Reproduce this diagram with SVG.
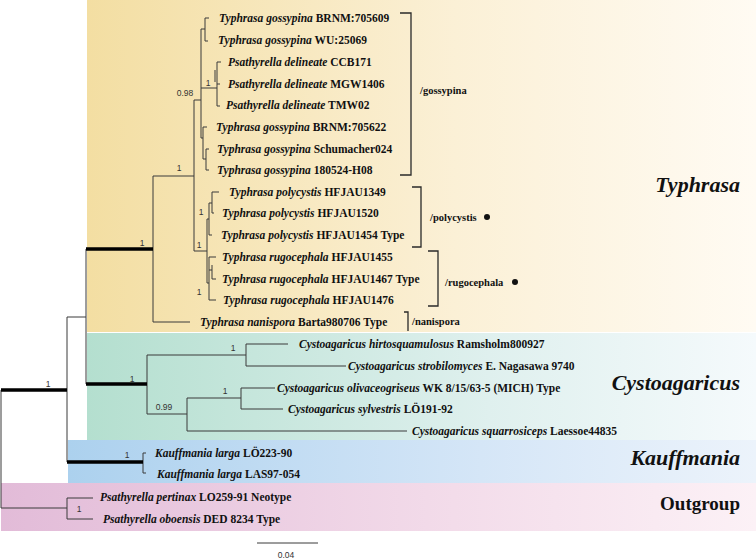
<svg xmlns="http://www.w3.org/2000/svg" width="756" height="560" viewBox="0 0 756 560">
<defs>
<linearGradient id="gY" x1="0" y1="0" x2="1" y2="0"><stop offset="0" stop-color="#f3dea2"/><stop offset="0.55" stop-color="#fbf0d6"/><stop offset="1" stop-color="#fffbf3"/></linearGradient>
<linearGradient id="gT" x1="0" y1="0" x2="1" y2="0"><stop offset="0" stop-color="#b4dfcf"/><stop offset="0.6" stop-color="#dff0ee"/><stop offset="1" stop-color="#f5fafc"/></linearGradient>
<linearGradient id="gB" x1="0" y1="0" x2="1" y2="0"><stop offset="0" stop-color="#acd1ee"/><stop offset="0.6" stop-color="#d5e6f7"/><stop offset="1" stop-color="#ecf3fb"/></linearGradient>
<linearGradient id="gP" x1="0" y1="0" x2="1" y2="0"><stop offset="0" stop-color="#e2bbd8"/><stop offset="0.6" stop-color="#f3dcea"/><stop offset="1" stop-color="#fcf1f6"/></linearGradient>
<style>
.br{fill:none;stroke:#3a3a3a;stroke-width:1}
.th{fill:none;stroke:#000;stroke-width:3.5}
.bk{fill:none;stroke:#2a2a2a;stroke-width:1.3}
.tx{font-family:"Liberation Serif",serif;font-weight:bold;font-size:11.5px;fill:#111}
.tx tspan.i{font-style:italic}
.cl{font-family:"Liberation Serif",serif;font-weight:bold;font-size:10.5px;fill:#111}
.sp{font-family:"Liberation Sans",Arial,sans-serif;font-size:8.5px;fill:#333;text-anchor:middle}
.gr{font-family:"Liberation Serif",serif;font-weight:bold;font-style:italic;font-size:22px;fill:#111;text-anchor:end}
.og{font-family:"Liberation Serif",serif;font-weight:bold;font-size:19px;fill:#111;text-anchor:end}
</style>
</defs>
<g id="backgrounds">
<rect x="87" y="0" width="669" height="332" fill="url(#gY)"/>
<rect x="87" y="333" width="669" height="107" fill="url(#gT)"/>
<rect x="68" y="440" width="688" height="43" fill="url(#gB)"/>
<rect x="1" y="483" width="755" height="48" fill="url(#gP)"/>
</g>
<g id="connectors">
<path class="br" d="M1,390V508M1,508H67M67,498V519M67,498H93M67,519H93"/>
<path class="br" d="M67,317V462M67,317H86M143,453V473M143,453H146M143,473H146"/>
<path class="br" d="M86,249V384M153,176V322M153,176H194M153,322H190"/>
<path class="br" d="M194,100V251M194,100H201M194,251H207"/>
<path class="br" d="M201,29V138M201,29H205M205,18V41M205,18H209M205,41H208"/>
<path class="br" d="M201,88H217M217,62V106M217,62H221M217,84H220M217,106H220M215,70V82"/>
<path class="br" d="M201,138H203M203,127V159M203,127H207M203,159H206M206,149V170M206,149H209M206,170H209"/>
<path class="br" d="M207,219V283M207,219H209M207,283H209M209,203V235M209,203H212M212,192V213M212,192H219M212,213H214M209,235H212"/>
<path class="br" d="M209,257V300M209,257H216M209,270H212M212,265V279M212,279H216M209,300H216"/>
<path class="br" d="M147,355V414M147,355H246M147,414H187M246,344V366M246,344H288M246,366H346M187,398V431M187,398H241M187,431H407M241,388V409M241,388H275M241,409H283"/>
<path class="th" d="M1,390H67M67,462H143M86,249H153M86,384H147"/>
<path class="bk" d="M400,13H411V175H400M412,187H421V247H412M428,251H438V306H428M404,312H408V331"/>
<path class="br" d="M257,543H318"/>
</g>
<g id="supports">
<text class="sp" x="48" y="387">1</text>
<text class="sp" x="132" y="382">1</text>
<text class="sp" x="127" y="458">1</text>
<text class="sp" x="142" y="246">1</text>
<text class="sp" x="79" y="512">1</text>
<text class="sp" x="179" y="171">1</text>
<text class="sp" x="185" y="96">0.98</text>
<text class="sp" x="208" y="86">1</text>
<text class="sp" x="199" y="248">1</text>
<text class="sp" x="201" y="215">1</text>
<text class="sp" x="199" y="295">1</text>
<text class="sp" x="233" y="351">1</text>
<text class="sp" x="164" y="410">0.99</text>
<text class="sp" x="225" y="394">1</text>
<text class="sp" x="286" y="558">0.04</text>
</g>
<g id="taxa">
<text class="tx" x="219" y="22"><tspan class="i">Typhrasa gossypina</tspan> BRNM:705609</text>
<text class="tx" x="218" y="44"><tspan class="i">Typhrasa gossypina</tspan> WU:25069</text>
<text class="tx" x="228" y="66"><tspan class="i">Psathyrella delineate</tspan> CCB171</text>
<text class="tx" x="228" y="88"><tspan class="i">Psathyrella delineate</tspan> MGW1406</text>
<text class="tx" x="226" y="109"><tspan class="i">Psathyrella delineate</tspan> TMW02</text>
<text class="tx" x="216" y="131"><tspan class="i">Typhrasa gossypina</tspan> BRNM:705622</text>
<text class="tx" x="217" y="153"><tspan class="i">Typhrasa gossypina</tspan> Schumacher024</text>
<text class="tx" x="217" y="174"><tspan class="i">Typhrasa gossypina</tspan> 180524-H08</text>
<text class="tx" x="229" y="196"><tspan class="i">Typhrasa polycystis</tspan> HFJAU1349</text>
<text class="tx" x="222" y="217"><tspan class="i">Typhrasa polycystis</tspan> HFJAU1520</text>
<text class="tx" x="221" y="239"><tspan class="i">Typhrasa polycystis</tspan> HFJAU1454 Type</text>
<text class="tx" x="222" y="261"><tspan class="i">Typhrasa rugocephala</tspan> HFJAU1455</text>
<text class="tx" x="222" y="283"><tspan class="i">Typhrasa rugocephala</tspan> HFJAU1467 Type</text>
<text class="tx" x="223" y="304"><tspan class="i">Typhrasa rugocephala</tspan> HFJAU1476</text>
<text class="tx" x="200" y="326"><tspan class="i">Typhrasa nanispora</tspan> Barta980706 Type</text>
<text class="tx" x="299" y="348"><tspan class="i">Cystoagaricus hirtosquamulosus</tspan> Ramsholm800927</text>
<text class="tx" x="348" y="370"><tspan class="i">Cystoagaricus strobilomyces</tspan> E. Nagasawa 9740</text>
<text class="tx" x="277" y="392"><tspan class="i">Cystoagaricus olivaceogriseus</tspan> WK 8/15/63-5 (MICH) Type</text>
<text class="tx" x="288" y="413"><tspan class="i">Cystoagaricus sylvestris</tspan> LÖ191-92</text>
<text class="tx" x="412" y="435"><tspan class="i">Cystoagaricus squarrosiceps</tspan> Laessoe44835</text>
<text class="tx" x="155" y="457"><tspan class="i">Kauffmania larga</tspan> LÖ223-90</text>
<text class="tx" x="157" y="478"><tspan class="i">Kauffmania larga</tspan> LAS97-054</text>
<text class="tx" x="100" y="501"><tspan class="i">Psathyrella pertinax</tspan> LO259-91 Neotype</text>
<text class="tx" x="103" y="523"><tspan class="i">Psathyrella oboensis</tspan> DED 8234 Type</text>
</g>
<g id="clades">
<text class="cl" x="420" y="94">/gossypina</text>
<text class="cl" x="430" y="221">/polycystis</text>
<circle cx="487" cy="217" r="3" fill="#111"/>
<text class="cl" x="445" y="286">/rugocephala</text>
<circle cx="515" cy="282" r="3" fill="#111"/>
<text class="cl" x="412" y="325">/nanispora</text>
</g>
<g id="groups">
<text class="gr" x="740" y="192">Typhrasa</text>
<text class="gr" x="740" y="390">Cystoagaricus</text>
<text class="gr" x="740" y="465">Kauffmania</text>
<text class="og" x="740" y="510">Outgroup</text>
</g>
</svg>
